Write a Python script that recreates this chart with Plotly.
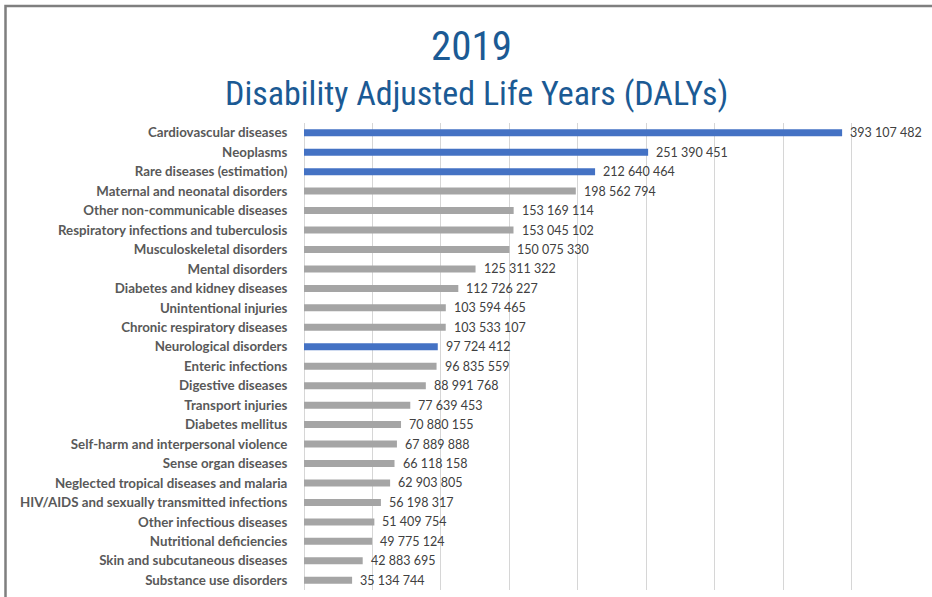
import plotly.graph_objects as go

categories = [
    "Cardiovascular diseases", "Neoplasms", "Rare diseases (estimation)",
    "Maternal and neonatal disorders", "Other non-communicable diseases",
    "Respiratory infections and tuberculosis", "Musculoskeletal disorders",
    "Mental disorders", "Diabetes and kidney diseases", "Unintentional injuries",
    "Chronic respiratory diseases", "Neurological disorders", "Enteric infections",
    "Digestive diseases", "Transport injuries", "Diabetes mellitus",
    "Self-harm and interpersonal violence", "Sense organ diseases",
    "Neglected tropical diseases and malaria",
    "HIV/AIDS and sexually transmitted infections", "Other infectious diseases",
    "Nutritional deficiencies", "Skin and subcutaneous diseases",
    "Substance use disorders",
]
dalys = [
    393107482, 251390451, 212640464, 198562794, 153169114, 153045102,
    150075330, 125311322, 112726227, 103594465, 103533107, 97724412,
    96835559, 88991768, 77639453, 70880155, 67889888, 66118158,
    62903805, 56198317, 51409754, 49775124, 42883695, 35134744,
]
highlighted = ["Cardiovascular diseases", "Neoplasms", "Rare diseases (estimation)",
               "Neurological disorders"]
title_year = "2019"
title_text = "Disability Adjusted Life Years (DALYs)"

W, H = 932, 597
L, R, T, B = 304, 12, 123, 7
pw, ph = W - L - R, H - T - B

def px_to_paper_x(px):
    return (px - L) / pw

def px_to_paper_y(py):
    return (H - B - py) / ph

colors = ["#4472C4" if c in highlighted else "#A5A5A5" for c in categories]
labels = ["{:,}".format(v).replace(",", " ") for v in dalys]

fig = go.Figure(go.Bar(
    x=dalys, y=categories, orientation="h",
    marker=dict(color=colors, line=dict(width=0)),
    hoverinfo="x+y",
))

annotations = []
for c, v, t in zip(categories, dalys, labels):
    annotations.append(dict(
        x=v, y=c, xref="x", yref="y", text=t, showarrow=False,
        xanchor="left", yanchor="middle", xshift=6,
        font=dict(family="Lato, Carlito, Calibri, sans-serif", size=12.5, color="#404040"),
    ))
annotations.append(dict(
    x=px_to_paper_x(471), y=px_to_paper_y(46), xref="paper", yref="paper",
    text=title_year, showarrow=False, xanchor="center", yanchor="middle",
    font=dict(family="Liberation Sans Narrow, Roboto Condensed, Roboto, sans-serif",
              size=41, color="#1B5A94"),
))
annotations.append(dict(
    x=px_to_paper_x(476), y=px_to_paper_y(93), xref="paper", yref="paper",
    text=title_text, showarrow=False, xanchor="center", yanchor="middle",
    font=dict(family="Liberation Sans Narrow, Roboto Condensed, Roboto, sans-serif",
              size=34, color="#1B5A94"),
))

fig.update_layout(
    width=W, height=H,
    margin=dict(l=L, r=R, t=T, b=B, pad=0),
    paper_bgcolor="white", plot_bgcolor="white",
    showlegend=False,
    bargap=0.64,
    annotations=annotations,
    shapes=[dict(
        type="rect", xref="paper", yref="paper",
        x0=px_to_paper_x(5.5), x1=px_to_paper_x(945),
        y0=px_to_paper_y(620), y1=px_to_paper_y(6),
        line=dict(color="#7F7F7F", width=2.5), fillcolor="rgba(0,0,0,0)",
        layer="below",
    )],
)
fig.update_xaxes(
    range=[0, 450000000], dtick=50000000, showticklabels=False,
    showgrid=True, gridcolor="#D6D6D6", gridwidth=1.3,
    zeroline=True, zerolinecolor="#D6D6D6", zerolinewidth=1.3,
    showline=False, fixedrange=True,
)
fig.update_yaxes(
    categoryorder="array", categoryarray=categories, autorange="reversed",
    showgrid=False, zeroline=False, showline=False,
    ticks="outside", ticklen=13, tickcolor="rgba(0,0,0,0)",
    tickfont=dict(family="Lato, Carlito, Calibri, sans-serif", size=13.3, color="#595959",
                  weight="bold"),
)

fig.write_html("out.html")
